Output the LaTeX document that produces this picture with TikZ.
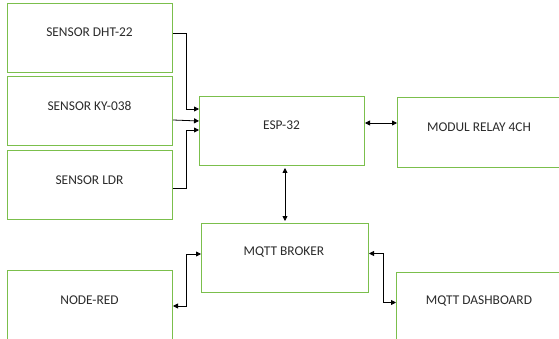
\documentclass[tikz,border=0pt]{standalone}
\usepackage{fontspec}
\setmainfont{Carlito}
\usetikzlibrary{arrows.meta,calc}
\definecolor{boxgreen}{HTML}{7BBF4C}
\definecolor{txt}{HTML}{2B2B2B}
\tikzset{
  blk/.style={draw=boxgreen, line width=1pt, minimum width=165pt, minimum height=69pt, inner sep=0pt, anchor=north west},
  lbl/.style={text=txt, font=\fontsize{13.4}{15}\selectfont, inner sep=0pt},
  conn/.style={draw=black, line width=0.8pt, >={Triangle[length=5pt,width=5pt]}}
}
\begin{document}
\begin{tikzpicture}[x=1pt,y=-1pt]
\useasboundingbox (0,0) rectangle (559,339);
\clip (0,0) rectangle (559,339);
\fill[white] (0,0) rectangle (559,339);
% boxes
\node[blk] (dht) at (7,3) {};
\node[blk] (ky) at (7,76) {};
\node[blk] (ldr) at (7,150) {};
\node[blk] (esp) at (199,96) {};
\node[blk, minimum width=175pt, minimum height=70pt] (relay) at (397,97) {};
\node[blk, minimum width=167pt] (broker) at (201,223) {};
\node[blk, minimum width=175pt] (dash) at (396,272) {};
\node[blk] (nodered) at (7,270) {};
% labels
\node[lbl] (dhtt) at (89.5,32) {SENSOR DHT-22};
\node[lbl] (kyt) at (89.5,106) {SENSOR KY-038};
\node[lbl] (ldrt) at (89.5,180) {SENSOR LDR};
\node[lbl] (espt) at (281.5,125) {ESP-32};
\node[lbl] (relayt) at (479,127) {MODUL RELAY 4CH};
\node[lbl] (brokert) at (284,252) {MQTT BROKER};
\node[lbl] (dasht) at (479,301) {MQTT DASHBOARD};
\node[lbl] (noderedt) at (89.5,300) {NODE-RED};
% connectors
\draw[conn,->] ($(dht.east)+(0,-5)$) -- ++(13,0) |- ($(esp.west)+(0,-22)$);
\draw[conn,->] ($(ky.east)+(0,9)$) -- ($(esp.west)+(0,-10)$);
\draw[conn,->] ($(ldr.east)+(0,3)$) -- ++(13,0) |- ($(esp.west)+(0,-1)$);
\coordinate (er) at ($(esp.east)+(0,-8)$);
\draw[conn,<->] (er) -- (er -| relay.west);
\draw[conn,<->,shorten <=2pt,shorten >=2pt] (esp.south -| broker.north) -- (broker.north);
\draw[conn,<->] ($(broker.west)+(0,-4)$) -- ++(-15,0) |- ($(nodered.east)+(0,1)$);
\draw[conn,<->] ($(broker.east)+(0,-4.5)$) -- ++(14,0) |- ($(dash.west)+(0,-4.5)$);
\end{tikzpicture}
\end{document}
